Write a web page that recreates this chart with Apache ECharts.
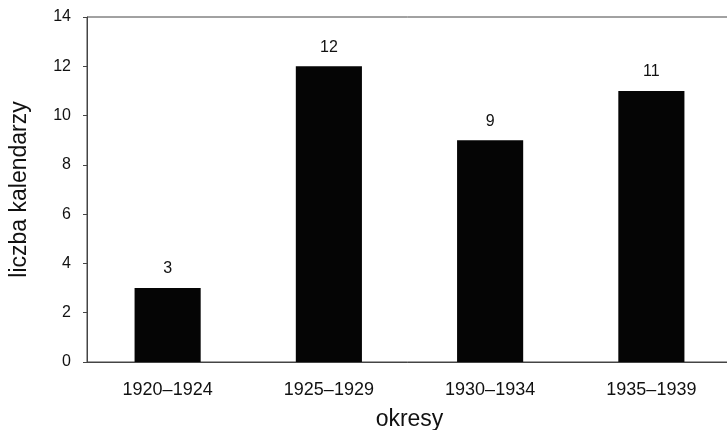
<!DOCTYPE html>
<html>
<head>
<meta charset="utf-8">
<script src="https://cdn.jsdelivr.net/npm/echarts@6/dist/echarts.min.js"></script>
<style>
  html, body { margin: 0; padding: 0; background: #fff; }
  #chart { width: 727px; height: 430px; }
</style>
</head>
<body>
<div id="chart"></div>
<script>
const categories = ['1920–1924', '1925–1929', '1930–1934', '1935–1939']
const counts = [3, 12, 9, 11]
const yTicks = [0, 2, 4, 6, 8, 10, 12, 14]

const chart = echarts.init(document.getElementById('chart'))

chart.setOption({
  animation: false,
  textStyle: { fontFamily: 'Liberation Sans, Arial, sans-serif' },
  grid: {
    left: 87,
    top: 17,
    right: -5,
    bottom: 68,
    outerBoundsMode: 'none',
    show: true,
    borderColor: '#444',
    borderWidth: 1,
  },
  xAxis: {
    type: 'category',
    data: categories,
    name: 'okresy',
    nameLocation: 'middle',
    nameGap: 46,
    nameTextStyle: { fontSize: 23, color: '#111' },
    axisLine: { lineStyle: { color: '#444' } },
    axisTick: { show: false },
    axisLabel: { fontSize: 18, color: '#111', margin: 19 },
  },
  yAxis: {
    type: 'value',
    min: yTicks[0],
    max: yTicks[yTicks.length - 1],
    interval: 2,
    name: 'liczba kalendarzy',
    nameLocation: 'middle',
    nameGap: 56,
    nameTextStyle: { fontSize: 23, color: '#111' },
    splitLine: { show: false },
    axisLine: { show: true, lineStyle: { color: '#444' } },
    axisTick: { show: true, length: 4, lineStyle: { color: '#444' } },
    axisLabel: { fontSize: 16, color: '#111', margin: 16 },
  },
  series: [
    {
      type: 'bar',
      data: counts,
      barWidth: '41%',
      itemStyle: { color: '#050505' },
      label: {
        show: true,
        position: 'top',
        distance: 11,
        fontSize: 16,
        color: '#111',
      },
    },
  ],
})
</script>
</body>
</html>
